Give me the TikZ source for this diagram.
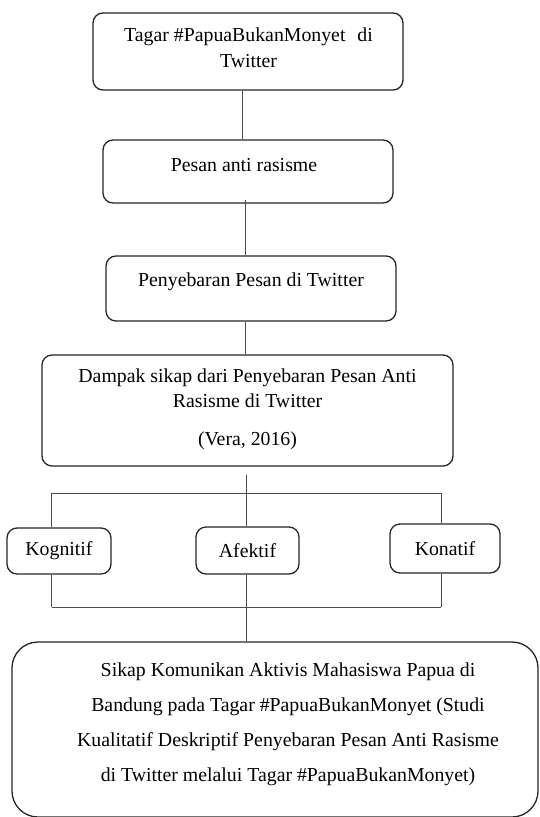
\documentclass[tikz,border=0pt]{standalone}
\usepackage{fontspec}
\setmainfont{Liberation Serif}
\begin{document}
\begin{tikzpicture}[x=1pt,y=-1pt,
  box/.style={draw=black!85, line width=1.3pt, rounded corners=10pt, inner sep=0pt, align=center,
    font=\fontsize{19.8}{26}\selectfont},
  conn/.style={draw=black!70, line width=0.9pt},
  txt/.style={inner sep=0pt, align=center, font=\fontsize{19.8}{35}\selectfont}]
\useasboundingbox (0,0) rectangle (539,817);
% boxes
\node[box, minimum width=310pt, minimum height=77pt] (b1) at (248,51.5) {};
\node[txt, font=\fontsize{19.8}{26}\selectfont] (t1) at (248.5,48) {Tagar \#PapuaBukanMonyet\hspace{0.6em}di\\Twitter};
\node[box, minimum width=290pt, minimum height=63pt] (b2) at (248,171.5) {};
\node[txt] (t2) at (244,165) {Pesan anti rasisme};
\node[box, minimum width=290pt, minimum height=65pt] (b3) at (251,288.5) {};
\node[txt] (t3) at (251,282) {Penyebaran Pesan di Twitter};
\node[box, minimum width=411pt, minimum height=111pt] (b4) at (247.5,410.5) {};
\node[txt, font=\fontsize{19.8}{25}\selectfont] (t4) at (247.5,409) {Dampak sikap dari Penyebaran Pesan Anti\\Rasisme di Twitter\\[13pt](Vera, 2016)};
\node[box, minimum width=104pt, minimum height=46pt] (k1) at (59,551) {Kognitif};
\node[box, minimum width=103pt, minimum height=47pt] (k2) at (247.5,550.5) {Afektif};
\node[box, minimum width=110pt, minimum height=49pt] (k3) at (445,548.5) {Konatif};
\node[box, rounded corners=26pt, minimum width=526pt, minimum height=175pt] (b5) at (275,729.5) {};
\node[txt] (t5) at (288,724.5) {Sikap Komunikan Aktivis Mahasiswa Papua di\\Bandung pada Tagar \#PapuaBukanMonyet (Studi\\Kualitatif Deskriptif Penyebaran Pesan Anti Rasisme\\di Twitter melalui Tagar \#PapuaBukanMonyet)};
% helper coordinates
\coordinate (x1) at (242,0);
\coordinate (x2) at (245,0);
\coordinate (x3) at (246,0);
\coordinate (xl) at (51.5,0);
\coordinate (xr) at (441,0);
\coordinate (hu) at (0,493);
\coordinate (hd) at (0,607);
% connectors
\draw[conn] (b1.south -| x1) -- (b2.north -| x1);
\draw[conn] ([yshift=4pt]b2.south -| x2) -- (b3.north -| x2);
\draw[conn] (b3.south -| x2) -- (b4.north -| x2);
\draw[conn] ([yshift=-8pt]b4.south -| x3) -- (hu -| x3);
\draw[conn] (hu -| xl) -- (hu -| xr);
\draw[conn] (hu -| xl) -- (k1.north -| xl);
\draw[conn] (hu -| x3) -- (k2.north -| x3);
\draw[conn] (hu -| xr) -- (k3.north -| xr);
\draw[conn] (k1.south -| xl) -- (hd -| xl);
\draw[conn] (k3.south -| xr) -- (hd -| xr);
\draw[conn] (hd -| xl) -- (hd -| xr);
\draw[conn] (k2.south -| x3) -- (b5.north -| x3);
\end{tikzpicture}
\end{document}
